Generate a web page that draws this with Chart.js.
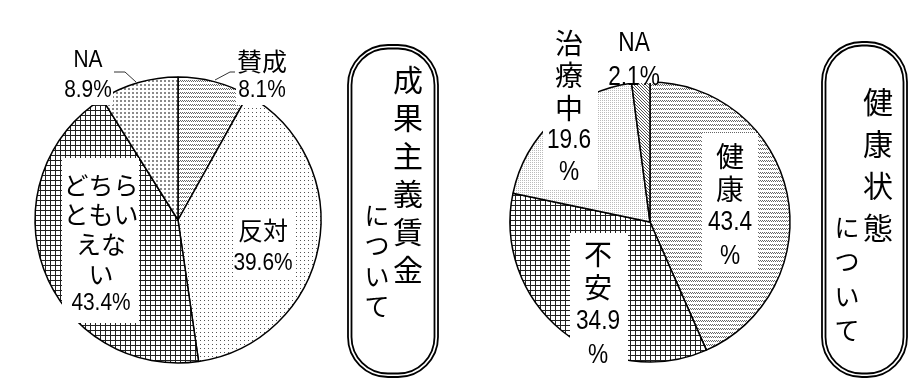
<!DOCTYPE html>
<html>
<head>
<meta charset="utf-8">
<script src="https://cdn.jsdelivr.net/npm/chart.js@4.4.1/dist/chart.umd.min.js"></script>
<style>
  body { margin: 0; background: #fff; width: 915px; height: 386px; overflow: hidden; position: relative; }
  #seika { position: absolute; left: 0; top: 0; }
  #kenko { position: absolute; left: 480px; top: 0; }
</style>
</head>
<body>
<canvas id="seika" width="480" height="386"></canvas>
<canvas id="kenko" width="435" height="386"></canvas>
<script>
// 成果主義賃金について
const seikaLabels = ["賛成", "反対", "どちらともいえない", "NA"];
const seikaValues = [8.1, 39.6, 43.4, 8.9];
// 健康状態について
const kenkoLabels = ["健康", "不安", "治療中", "NA"];
const kenkoValues = [43.4, 34.9, 19.6, 2.1];

// パターン塗り
function tile(w, h, pixels, color) {
  const c = document.createElement("canvas");
  c.width = w;
  c.height = h;
  const g = c.getContext("2d");
  g.fillStyle = "#fff";
  g.fillRect(0, 0, w, h);
  g.fillStyle = color;
  pixels.forEach(([x, y]) => g.fillRect(x, y, 1, 1));
  return g.createPattern(c, "repeat");
}
const wave = tile(4, 4, [[0, 0], [2, 0], [1, 1], [3, 1]], "#666");
const dots = tile(4, 4, [[0, 0]], "#555");
const gridCells = [];
for (let i = 0; i < 5; i++) { gridCells.push([i, 0]); gridCells.push([0, i]); }
const grid = tile(5, 5, gridCells, "#222");
const checker = tile(4, 4, [[0, 0], [1, 0], [0, 1], [1, 1]], "#8a8a8a");
const light = tile(2, 2, [[0, 0]], "#bbb");
const hatch = tile(3, 3, [[0, 0], [1, 1], [2, 2]], "#555");

function isAscii(s) { return /^[\x00-\x7f]+$/.test(s); }

// ラベル（白い箱の上に文字）
function labelPlugin(layout, fontSize, cjkSize, sx, title) {
  return {
    id: "labels",
    afterDatasetsDraw(chart) {
      const ctx = chart.ctx;
      const vals = chart.data.datasets[0].data;
      ctx.save();
      layout.forEach((l) => {
        ctx.fillStyle = "#fff";
        ctx.fillRect(l.box[0], l.box[1], l.box[2], l.box[3]);
      });
      ctx.fillStyle = "#000";
      ctx.textAlign = "center";
      ctx.textBaseline = "middle";
      layout.forEach((l, i) => {
        const v = vals[i].toFixed(1);
        const lines = l.name.concat(l.split ? [v, "%"] : [v + "%"]);
        lines.forEach((t, k) => {
          const y = l.y + k * l.lh;
          ctx.save();
          ctx.translate(l.x, y);
          if (isAscii(t)) {
            ctx.font = fontSize + 'px "Liberation Sans", Arial, sans-serif';
            ctx.scale(sx, 1);
          } else {
            ctx.font = cjkSize + 'px "Noto Sans CJK JP", sans-serif';
          }
          ctx.fillText(t, 0, 1);
          ctx.restore();
        });
        if (l.leader) {
          ctx.strokeStyle = "#333";
          ctx.lineWidth = 1;
          ctx.beginPath();
          l.leader.forEach(([x, y], k) => (k ? ctx.lineTo(x, y) : ctx.moveTo(x, y)));
          ctx.stroke();
        }
      });
      // 縦書きの見出し枠
      const b = title.box;
      ctx.strokeStyle = "#000";
      ctx.lineWidth = 1.8;
      ctx.beginPath();
      ctx.roundRect(b[0], b[1], b[2], b[3], 40);
      ctx.stroke();
      ctx.beginPath();
      ctx.roundRect(b[0] + 3.5, b[1] + 3.5, b[2] - 7, b[3] - 7, 36.5);
      ctx.stroke();
      title.cols.forEach((c) => {
        ctx.font = c.size + 'px "Noto Sans CJK JP", sans-serif';
        Array.from(c.text).forEach((ch, k) => {
          ctx.fillText(ch, c.x, c.y + k * c.lh);
        });
      });
      ctx.restore();
    },
  };
}

function makePie(id, labels, values, fills, pad, radius, plugin) {
  return new Chart(document.getElementById(id), {
    type: "pie",
    data: {
      labels: labels,
      datasets: [
        {
          data: values,
          backgroundColor: fills,
          borderColor: "#000",
          borderWidth: 1.5,
          radius: radius,
        },
      ],
    },
    options: {
      responsive: false,
      animation: false,
      layout: { padding: pad },
      plugins: { legend: { display: false }, tooltip: { enabled: false } },
    },
    plugins: [plugin],
  });
}

const seikaLayout = [
  { name: ["賛成"], x: 262, y: 60, lh: 29, box: [236, 44, 55, 61], leader: [[215, 80], [230, 72], [235, 72]] },
  { name: ["反対"], x: 263, y: 229, lh: 33, box: [234, 212, 60, 66] },
  { name: ["どちら", "ともい", "えな", "い"], x: 101, y: 184, lh: 29.7, box: [62, 158, 77, 165] },
  { name: ["NA"], x: 88, y: 59, lh: 30, box: [62, 44, 51, 61], leader: [[136, 82], [125, 72], [114, 72]] },
];
const seikaTitle = {
  box: [348, 45, 90, 332],
  cols: [
    { text: "成果主義賃金", x: 408, y: 80, lh: 38, size: 30 },
    { text: "について", x: 377, y: 215, lh: 30.5, size: 25 },
  ],
};

const kenkoLayout = [
  { name: ["健", "康"], split: true, x: 250, y: 155, lh: 33.5, box: [222, 133, 56, 139] },
  { name: ["不", "安"], split: true, x: 118, y: 253, lh: 33.7, box: [90, 233, 58, 132] },
  { name: ["治", "療", "中"], split: true, x: 89, y: 42, lh: 32.5, box: [63, 22, 55, 167] },
  { name: ["NA"], x: 154, y: 43, lh: 34, box: [131, 24, 46, 59] },
];
const kenkoTitle = {
  box: [342, 42, 85, 335],
  cols: [
    { text: "健康状態", x: 398, y: 102, lh: 42, size: 30 },
    { text: "について", x: 367, y: 227, lh: 34.5, size: 25 },
  ],
};

makePie("seika", seikaLabels, seikaValues, [wave, dots, grid, checker],
  { left: 0, right: 124, top: 54, bottom: 0 }, 143,
  labelPlugin(seikaLayout, 24, 25, 0.87, seikaTitle));

makePie("kenko", kenkoLabels, kenkoValues, [wave, grid, light, hatch],
  { left: 0, right: 95, top: 58, bottom: 0 }, 140,
  labelPlugin(kenkoLayout, 27, 28, 0.84, kenkoTitle));
</script>
</body>
</html>
